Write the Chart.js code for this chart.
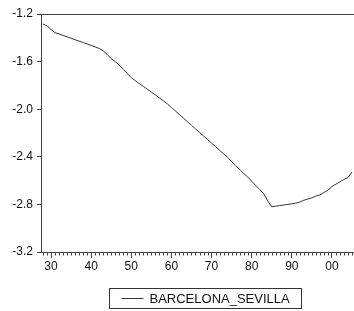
<!DOCTYPE html>
<html>
<head>
<meta charset="utf-8">
<script src="https://cdn.jsdelivr.net/npm/chart.js@4.4.1/dist/chart.umd.min.js"></script>
<style>
  html, body { margin: 0; padding: 0; background: #fff; }
  #wrap { width: 354px; height: 311px; }
</style>
</head>
<body>
<div id="wrap"><canvas id="chart"></canvas></div>
<script>
const seriesName = "BARCELONA_SEVILLA";

const years = [
    1928, 1929, 1930, 1931, 1932, 1933, 1934, 1935, 1936, 1937,
    1938, 1939, 1940, 1941, 1942, 1943, 1944, 1945, 1946, 1947,
    1948, 1949, 1950, 1951, 1952, 1953, 1954, 1955, 1956, 1957,
    1958, 1959, 1960, 1961, 1962, 1963, 1964, 1965, 1966, 1967,
    1968, 1969, 1970, 1971, 1972, 1973, 1974, 1975, 1976, 1977,
    1978, 1979, 1980, 1981, 1982, 1983, 1984, 1985, 1986, 1987,
    1988, 1989, 1990, 1991, 1992, 1993, 1994, 1995, 1996, 1997,
    1998, 1999, 2000, 2001, 2002, 2003, 2004, 2005
];

const values = [
    -1.284, -1.300, -1.330, -1.357, -1.368, -1.380, -1.392, -1.404, -1.416, -1.428,
    -1.440, -1.452, -1.464, -1.476, -1.490, -1.510, -1.540, -1.575, -1.600, -1.630,
    -1.665, -1.700, -1.735, -1.760, -1.785, -1.808, -1.832, -1.856, -1.880, -1.905,
    -1.930, -1.955, -1.985, -2.015, -2.045, -2.075, -2.105, -2.135, -2.165, -2.195,
    -2.225, -2.255, -2.285, -2.315, -2.345, -2.375, -2.405, -2.440, -2.475, -2.505,
    -2.540, -2.570, -2.605, -2.640, -2.675, -2.710, -2.770, -2.820, -2.815, -2.810,
    -2.805, -2.800, -2.795, -2.790, -2.780, -2.765, -2.755, -2.745, -2.730, -2.720,
    -2.700, -2.680, -2.650, -2.630, -2.610, -2.590, -2.575, -2.528
];

const xTickYears = [1930, 1940, 1950, 1960, 1970, 1980, 1990, 2000];
const xTickLabels = ["30", "40", "50", "60", "70", "80", "90", "00"];
const yTicks = [-3.2, -2.8, -2.4, -2.0, -1.6, -1.2];

const FONT = "'Liberation Sans', Arial, sans-serif";
const AXIS = "#444";

// yearly minor ticks under the x axis
const minorTicks = {
    id: "minorTicks",
    afterDraw(chart) {
        const x = chart.scales.x;
        const ctx = chart.ctx;
        const bottom = chart.chartArea.bottom;
        ctx.save();
        ctx.strokeStyle = AXIS;
        ctx.lineWidth = 1;
        ctx.beginPath();
        years.forEach(y => {
            if (y % 10 === 0) return;
            const px = Math.round(x.getPixelForValue(y)) + 0.5;
            ctx.moveTo(px, bottom);
            ctx.lineTo(px, bottom + 3.5);
        });
        ctx.stroke();
        ctx.restore();
    }
};

// boxed legend like the original
const boxLegend = {
    id: "boxLegend",
    afterDraw(chart) {
        const ctx = chart.ctx;
        const ds = chart.data.datasets[0];
        ctx.save();
        ctx.font = "13px " + FONT;
        const tw = ctx.measureText(ds.label).width;
        const lineLen = 22, gap = 6, pad = 12;
        const w = pad + lineLen + gap + tw + pad;
        const h = 20;
        const cx = (chart.chartArea.left + chart.chartArea.right) / 2 + 8;
        const left = Math.round(cx - w / 2) + 0.5;
        const top = chart.height - 23 + 0.5;
        ctx.strokeStyle = "#333";
        ctx.lineWidth = 1;
        ctx.strokeRect(left, top, Math.round(w), h);
        const my = Math.round(top + h / 2) - 0.5;
        ctx.strokeStyle = ds.borderColor;
        ctx.beginPath();
        ctx.moveTo(left + pad, my);
        ctx.lineTo(left + pad + lineLen, my);
        ctx.stroke();
        ctx.fillStyle = "#111";
        ctx.textBaseline = "middle";
        ctx.fillText(ds.label, left + pad + lineLen + gap, my + 1);
        ctx.restore();
    }
};

const ctx = document.getElementById("chart").getContext("2d");

new Chart(ctx, {
    type: "line",
    data: {
        datasets: [{
            label: seriesName,
            data: years.map((y, i) => ({ x: y, y: values[i] })),
            borderColor: "#333",
            borderWidth: 1,
            pointRadius: 0,
            tension: 0,
            fill: false
        }]
    },
    options: {
        responsive: true,
        maintainAspectRatio: false,
        animation: false,
        layout: { padding: { top: 14, right: 0, bottom: 37, left: 0 } },
        plugins: {
            legend: { display: false },
            tooltip: { enabled: false }
        },
        scales: {
            x: {
                type: "linear",
                min: 1927.5,
                max: 2005.5,
                afterBuildTicks: scale => {
                    scale.ticks = xTickYears.map(v => ({ value: v }));
                },
                afterFit: scale => { scale.height = 22; },
                grid: {
                    display: true,
                    drawOnChartArea: false,
                    tickLength: 6,
                    tickColor: AXIS
                },
                border: { display: true, color: AXIS, width: 1 },
                ticks: {
                    autoSkip: false,
                    maxRotation: 0,
                    padding: 1,
                    color: "#111",
                    font: { family: FONT, size: 12 },
                    callback: (v, i) => xTickLabels[i]
                }
            },
            y: {
                min: -3.2,
                max: -1.2,
                afterBuildTicks: scale => {
                    scale.ticks = yTicks.map(v => ({ value: v }));
                },
                afterFit: scale => { scale.width = 41; },
                grid: {
                    drawOnChartArea: true,
                    color: c => (c.tick && c.tick.value === -1.2) ? AXIS : "rgba(0,0,0,0)",
                    tickColor: AXIS,
                    tickLength: 4
                },
                border: { display: true, color: AXIS, width: 1 },
                ticks: {
                    padding: 4,
                    color: "#111",
                    font: { family: FONT, size: 12 },
                    callback: v => v.toFixed(1)
                }
            }
        }
    },
    plugins: [minorTicks, boxLegend]
});
</script>
</body>
</html>
